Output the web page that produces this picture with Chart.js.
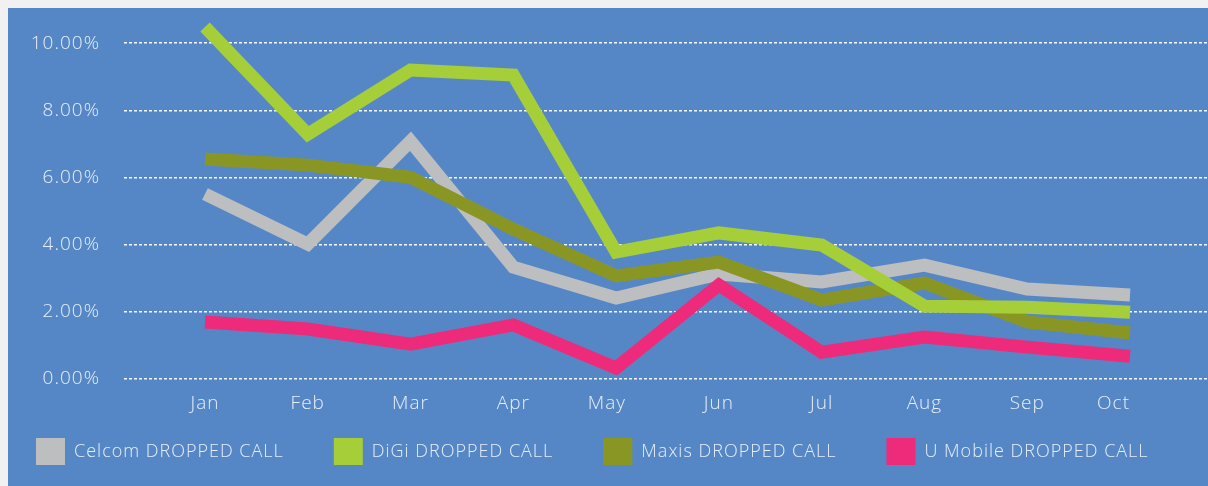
<!DOCTYPE html>
<html>
<head>
<meta charset="utf-8">
<script src="https://cdn.jsdelivr.net/npm/chart.js@4.4.1/dist/chart.umd.min.js"></script>
<style>
  html, body { margin: 0; padding: 0; background: #f1f1f1; width: 1208px; height: 486px; overflow: hidden; }
  #c { position: absolute; left: 8px; top: 8px; background: #5587c6; }
</style>
</head>
<body>
<canvas id="c" width="1200" height="478"></canvas>
<script>
const months = ['Jan', 'Feb', 'Mar', 'Apr', 'May', 'Jun', 'Jul', 'Aug', 'Sep', 'Oct'];
const seriesNames = ['Celcom DROPPED CALL', 'DiGi DROPPED CALL', 'Maxis DROPPED CALL', 'U Mobile DROPPED CALL'];
const celcom  = [5.51, 4.02, 7.08, 3.33, 2.41, 3.13, 2.89, 3.39, 2.68, 2.50];
const digi    = [10.48, 7.29, 9.20, 9.05, 3.78, 4.35, 3.99, 2.17, 2.14, 1.99];
const maxis   = [6.55, 6.37, 6.01, 4.46, 3.07, 3.48, 2.35, 2.86, 1.70, 1.37];
const umobile = [1.70, 1.49, 1.04, 1.61, 0.33, 2.80, 0.80, 1.25, 0.95, 0.68];
const yTicks  = [0, 2, 4, 6, 8, 10];

const colors = ['#bdbec0', '#a6ce39', '#8a9624', '#ee2a7b'];
const drawOrder = [4, 2, 3, 1];
const allSeries = [celcom, digi, maxis, umobile];
const FONT = '"Open Sans", "Noto Sans", sans-serif';
const TEXT = 'rgba(255,255,255,0.86)';
// small horizontal nudges (in category units) of individual month labels, as in the original artwork
const xLabelNudge = { 4: -0.09, 9: -0.16 };

const datasets = allSeries.map((vals, k) => ({
  label: seriesNames[k],
  data: vals.map((v, i) => ({ x: i, y: v })),
  borderColor: colors[k],
  backgroundColor: colors[k],
  borderWidth: 13,
  borderCapStyle: 'butt',
  borderJoinStyle: 'miter',
  pointRadius: 0,
  pointHoverRadius: 0,
  tension: 0,
  fill: false,
  order: drawOrder[k]
}));

const letterSpacingPlugin = {
  id: 'letterSpacing',
  beforeUpdate(chart) { chart.ctx.letterSpacing = '1px'; },
  beforeLayout(chart) { chart.ctx.letterSpacing = '1px'; },
  beforeDraw(chart) { chart.ctx.letterSpacing = '1px'; }
};

new Chart(document.getElementById('c'), {
  type: 'line',
  data: { datasets },
  plugins: [letterSpacingPlugin],
  options: {
    responsive: false,
    animation: false,
    devicePixelRatio: 1,
    layout: { padding: { left: -22, right: 0, top: 5, bottom: 11 } },
    plugins: {
      tooltip: { enabled: false },
      legend: {
        position: 'bottom',
        align: 'start',
        labels: {
          boxWidth: 29,
          boxHeight: 27,
          padding: 50,
          color: TEXT,
          font: { family: FONT, size: 18, weight: '300' },
          generateLabels: (chart) => chart.data.datasets.map((d, i) => ({
            text: d.label,
            fillStyle: d.borderColor,
            strokeStyle: d.borderColor,
            lineWidth: 0,
            fontColor: TEXT,
            hidden: false,
            datasetIndex: i
          }))
        }
      }
    },
    scales: {
      x: {
        type: 'linear',
        position: 'bottom',
        min: -0.788,
        max: 9.759,
        grid: { display: false, drawTicks: false },
        border: { display: false },
        afterBuildTicks: (axis) => { axis.ticks = months.map((m, i) => ({ value: i + (xLabelNudge[i] || 0) })); },
        afterFit: (axis) => { axis.height = 9; axis.paddingLeft = 0; axis.paddingRight = 0; },
        ticks: {
          mirror: true,
          padding: -36.4,
          autoSkip: false,
          maxRotation: 0,
          color: TEXT,
          font: { family: FONT, size: 19, weight: '300' },
          callback: (v) => months[Math.round(v)]
        }
      },
      y: {
        min: 0,
        max: 10.9,
        afterBuildTicks: (axis) => { axis.ticks = yTicks.map(v => ({ value: v })); },
        afterFit: (axis) => { axis.width = 138; axis.paddingTop = 0; axis.paddingBottom = 0; },
        grid: {
          color: 'rgba(255,255,255,0.95)',
          lineWidth: 1.5,
          drawTicks: false
        },
        border: { display: false, dash: [3, 2] },
        ticks: {
          padding: 24,
          color: TEXT,
          font: { family: FONT, size: 19, weight: '300' },
          callback: (v) => v.toFixed(2) + '%'
        }
      }
    }
  }
});
</script>
</body>
</html>
